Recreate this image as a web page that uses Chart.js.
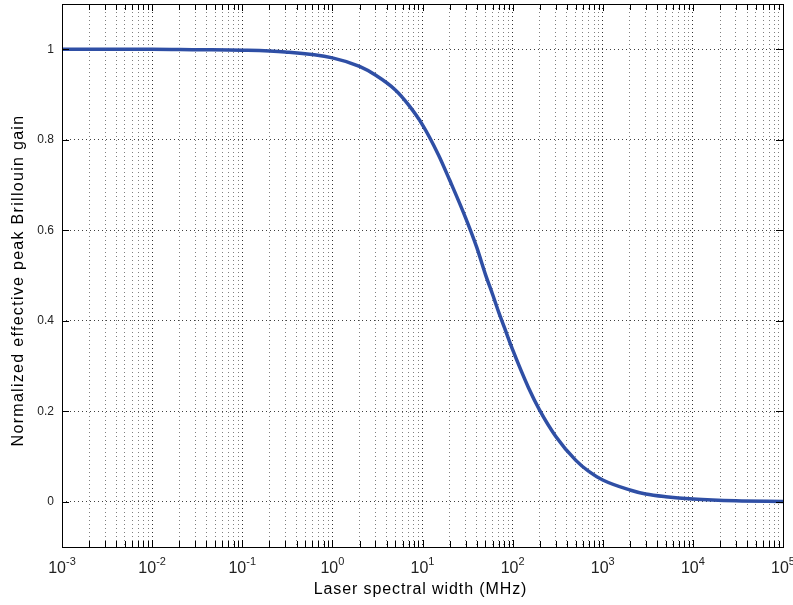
<!DOCTYPE html>
<html>
<head>
<meta charset="utf-8">
<script src="https://cdn.jsdelivr.net/npm/chart.js@4.4.1/dist/chart.umd.min.js"></script>
<style>
  html, body { margin: 0; padding: 0; background: #fff; }
  #wrap { width: 793px; height: 605px; }
</style>
</head>
<body>
<div id="wrap"><canvas id="c" width="793" height="605"></canvas></div>
<script>
// Laser linewidth (MHz) and the normalized effective peak Brillouin gain
const widthMHz = [0.001, 0.003, 0.01, 0.03, 0.1, 0.3, 1, 2, 3, 5, 7, 10, 15, 20, 30, 40, 50, 60, 70, 80,
                  100, 150, 200, 300, 500, 700, 1000, 2000, 3000, 5000, 10000, 30000, 100000];
const gainNorm = [1.0, 1.0, 1.0, 0.999, 0.998, 0.994, 0.981, 0.962, 0.943, 0.91, 0.877, 0.833, 0.767, 0.711, 0.628, 0.562, 0.502, 0.458, 0.419, 0.388,
                  0.336, 0.252, 0.202, 0.145, 0.092, 0.067, 0.048, 0.026, 0.017, 0.011, 0.006, 0.002, 0.0006];

// Axis ticks
const xDecadeExponents = [-3, -2, -1, 0, 1, 2, 3, 4, 5];
const yTickValues = [0, 0.2, 0.4, 0.6, 0.8, 1];
const yTickLabels = ['0', '0.2', '0.4', '0.6', '0.8', '1'];

const xTitle = 'Laser spectral width (MHz)';
const yTitle = 'Normalized effective peak Brillouin gain';

const FONT = '"Liberation Sans", Arial, Helvetica, sans-serif';
Chart.defaults.font.family = FONT;

// Decade ticks plus minor ticks at 2..9 within each decade
function buildLogTicks() {
  const ticks = [];
  xDecadeExponents.forEach((e, i) => {
    const base = Math.pow(10, e);
    ticks.push({ value: base, major: true });
    if (i < xDecadeExponents.length - 1) {
      for (let m = 2; m <= 9; m++) ticks.push({ value: m * base, major: false });
    }
  });
  return ticks;
}

// Axis box, inward tick marks, power-of-ten labels and axis titles
const framePlugin = {
  id: 'frame',
  afterDraw(chart) {
    const { ctx, chartArea: a, scales: { x, y } } = chart;
    ctx.save();
    ctx.strokeStyle = '#000';
    ctx.lineWidth = 1;
    ctx.beginPath();
    x.ticks.forEach(t => {
      const px = Math.round(x.getPixelForValue(t.value)) + 0.5;
      const len = t.major ? 7 : 6;
      ctx.moveTo(px, a.bottom); ctx.lineTo(px, a.bottom - len);
      ctx.moveTo(px, a.top); ctx.lineTo(px, a.top + len);
    });
    y.ticks.forEach(t => {
      const py = Math.round(y.getPixelForValue(t.value)) + 0.5;
      ctx.moveTo(a.left, py); ctx.lineTo(a.left + 7, py);
      ctx.moveTo(a.right, py); ctx.lineTo(a.right - 7, py);
    });
    ctx.stroke();
    ctx.strokeRect(Math.round(a.left) + 0.5, Math.round(a.top) + 0.5,
                   Math.round(a.right - a.left), Math.round(a.bottom - a.top));

    // x tick labels: "10" with a raised exponent
    ctx.fillStyle = '#222';
    ctx.textAlign = 'left';
    ctx.textBaseline = 'alphabetic';
    xDecadeExponents.forEach(e => {
      const px = x.getPixelForValue(Math.pow(10, e));
      const base = '10', sup = String(e);
      ctx.font = '16px ' + FONT;
      const wb = ctx.measureText(base).width;
      ctx.font = '11px ' + FONT;
      const ws = ctx.measureText(sup).width;
      const left = px - (wb + ws) / 2;
      ctx.font = '16px ' + FONT;
      ctx.fillText(base, left, 573);
      ctx.font = '11px ' + FONT;
      ctx.fillText(sup, left + wb, 565);
    });

    // axis titles
    ctx.fillStyle = '#000';
    ctx.font = '16px ' + FONT;
    ctx.textAlign = 'center';
    ctx.letterSpacing = '0.9px';
    ctx.fillText(xTitle, (a.left + a.right) / 2 - 2, 594);
    ctx.letterSpacing = '1.3px';
    ctx.translate(23, (a.top + a.bottom) / 2 + 5);
    ctx.rotate(-Math.PI / 2);
    ctx.fillText(yTitle, 0, 0);
    ctx.restore();
  }
};

new Chart(document.getElementById('c'), {
  type: 'line',
  data: {
    datasets: [{
      data: widthMHz.map((w, i) => ({ x: w, y: gainNorm[i] })),
      borderColor: '#2f4fa5',
      borderWidth: 3.5,
      pointRadius: 0,
      fill: false,
      cubicInterpolationMode: 'monotone'
    }]
  },
  options: {
    responsive: false,
    animation: false,
    layout: { padding: { top: 4, right: 10, left: 0, bottom: 0 } },
    plugins: { legend: { display: false }, tooltip: { enabled: false } },
    scales: {
      x: {
        type: 'logarithmic',
        min: 1e-3,
        max: 1e5,
        afterBuildTicks: s => { s.ticks = buildLogTicks(); },
        afterFit: s => { s.height = 58; s.paddingLeft = 0; s.paddingRight = 0; },
        ticks: { display: false, autoSkip: false },
        grid: {
          drawTicks: false,
          lineWidth: 1,
          color: c => (c.tick && c.tick.major) ? 'rgba(0,0,0,0.8)' : 'rgba(0,0,0,0.5)'
        },
        border: { display: false, dash: [1, 3] }
      },
      y: {
        type: 'linear',
        min: -0.1,
        max: 1.1,
        afterBuildTicks: s => { s.ticks = yTickValues.map(v => ({ value: v })); },
        afterFit: s => { s.width = 62; s.paddingTop = 0; s.paddingBottom = 0; },
        ticks: {
          autoSkip: false,
          padding: 8,
          color: '#222',
          font: { size: 12 },
          callback: (v, i) => yTickLabels[i]
        },
        grid: { drawTicks: false, lineWidth: 1, color: 'rgba(0,0,0,0.75)' },
        border: { display: false, dash: [1, 3] }
      }
    }
  },
  plugins: [framePlugin]
});
</script>
</body>
</html>
